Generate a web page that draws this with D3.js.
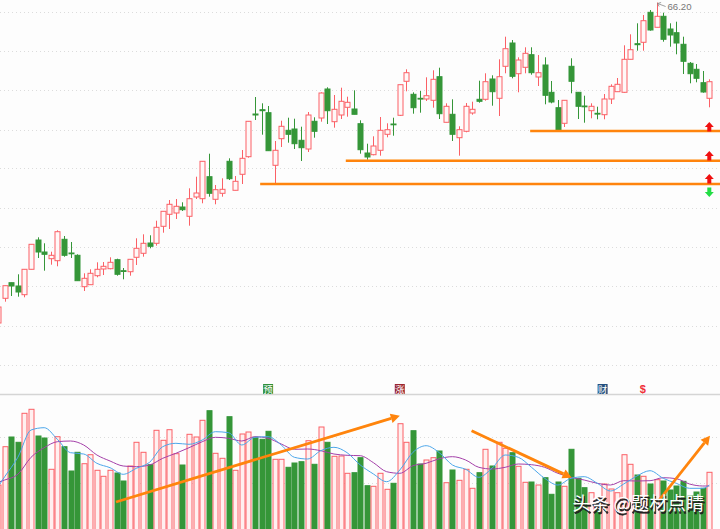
<!DOCTYPE html>
<html><head><meta charset="utf-8">
<style>html,body{margin:0;padding:0;background:#fdfdfd;overflow:hidden}svg{display:block}</style>
<script src="https://cdn.jsdelivr.net/npm/d3@7/dist/d3.min.js"></script>
</head><body><div id="chart"></div>
<script>
const opens=[34.4,36.87,38.43,38.1,37.23,39.77,42.7,41.5,40.83,40.63,42.77,41.4,41.17,38.03,38.23,39.13,39.8,39.83,40.73,39.63,39.53,40.97,41.37,42.4,42.37,44.07,45.27,45.4,46.0,45.07,47.0,46.83,49.03,46.77,47.37,50.57,47.67,49.27,51.03,55.3,55.73,55.43,50.17,52.83,53.67,53.8,52.67,51.8,54.57,54.9,57.8,54.53,55.2,55.97,55.8,54.33,51.4,51.23,51.67,53.27,54.3,55.17,58.57,57.27,56.87,56.8,56.67,59.03,54.47,55.27,52.93,53.57,55.4,56.77,56.77,58.8,56.87,60.07,62.4,59.33,59.97,61.23,59.0,60.2,57.47,55.93,54.37,60.07,57.47,56.1,55.63,55.37,55.23,56.8,57.53,57.47,60.77,62.33,62.47,65.47,63.97,65.07,63.8,63.43,62.27,60.37,59.77,58.43,56.87];
const closes=[36.0,38.13,38.1,37.5,39.77,42.27,41.5,41.27,41.17,43.53,41.17,41.33,38.63,38.87,39.37,39.77,40.07,40.47,39.27,39.57,40.77,41.87,42.37,42.07,43.97,45.57,46.27,46.07,45.73,46.83,47.4,50.57,47.37,47.73,47.77,48.83,48.57,50.87,54.57,55.2,55.63,51.63,51.67,54.07,53.27,52.33,51.93,55.2,53.57,57.4,55.63,55.77,56.57,56.47,55.27,51.73,51.0,52.1,53.67,53.73,54.23,58.23,59.43,55.93,56.83,57.13,58.77,55.33,56.07,53.27,53.73,56.07,55.77,56.57,58.53,57.53,59.03,61.83,59.07,60.7,61.37,59.43,59.43,57.17,56.5,53.7,56.67,58.57,56.07,56.03,56.07,55.3,56.8,58.07,58.27,60.77,61.73,62.23,64.63,63.7,65.07,62.77,63.2,62.4,60.57,59.33,58.87,57.5,58.53];
const highs=[36.2,38.13,38.43,39.27,39.77,42.27,42.97,42.37,41.53,43.67,43.1,42.5,41.27,39.37,39.77,40.47,40.5,40.97,40.83,39.9,40.77,42.87,43.27,43.17,44.63,45.57,46.7,46.8,46.47,47.87,49.03,50.57,51.33,48.2,48.87,50.87,49.1,51.7,54.57,57.0,56.37,56.1,52.6,54.63,54.93,54.83,54.03,55.5,54.97,57.47,57.97,57.2,57.93,57.03,57.67,54.67,52.33,53.07,55.0,54.37,54.93,58.23,59.77,57.47,57.6,58.97,59.67,59.93,56.37,56.77,54.07,56.4,56.53,58.63,59.37,59.17,60.77,63.03,62.7,60.97,61.97,61.97,61.2,60.97,58.6,56.7,56.67,60.87,57.47,57.13,56.37,56.03,57.3,58.27,58.9,62.17,63.27,64.37,65.2,65.7,66.45,65.43,64.37,64.53,63.03,60.5,60.3,59.6,58.77];
const lows=[34.4,36.53,37.1,37.03,36.97,39.77,40.9,39.63,40.23,40.07,41.03,40.9,38.63,37.6,38.23,38.97,39.2,39.77,39.13,38.77,39.13,40.2,41.03,41.87,42.13,43.43,43.8,44.8,45.6,44.13,46.8,46.37,47.03,46.27,47.03,48.7,47.67,48.3,50.93,54.7,53.23,51.63,48.3,52.0,52.43,51.8,50.6,51.5,52.93,54.53,54.3,53.93,54.8,55.03,55.27,51.33,50.73,51.17,51.13,52.97,53.13,55.1,57.57,55.33,55.43,56.6,55.93,54.8,54.47,52.6,51.13,53.47,55.23,56.43,56.63,56.13,55.1,59.37,58.87,57.47,59.37,59.23,58.1,56.27,56.37,53.7,54.0,57.37,54.8,54.43,54.87,54.77,54.77,56.3,57.53,57.43,60.77,61.63,61.63,63.63,63.97,62.53,62.03,61.27,59.3,58.37,58.47,57.43,55.97];
const volumes=[44,82.3,92,86.7,115.7,119.7,93,91,59.7,92.3,82.3,58,76.7,65.3,74.3,58.7,52.7,58.7,56,48,63,86.7,76.7,64.3,98.7,88.7,99.3,75.3,64,94.7,92,108.7,118.3,75.7,70.7,112.3,58.7,95,97,91.7,89.7,97.7,69.7,69.7,61.7,66,67.3,88.3,64.7,102,86.7,72.7,73,55.7,56.3,71.3,43.3,42.7,55.7,39.7,45.7,105.3,86.7,98.3,65,69,71.3,78,46.3,59,48.7,59.7,40.7,56.3,79.7,63,86.7,80.7,76.3,62.7,46.7,47,44,51.3,34.7,47,42.7,79.7,50.7,41.3,36.3,19,45,40,36.3,74.3,64.7,54,52.7,45,49.3,48,39,43,47.7,33,37,40.7,56.7];
const maDays=[0,1,...d3.range(3,108,2),108];
const maFast=[42.3,52.3,71.7,99,101.3,89.7,76.3,75,65.7,61.3,54.7,60.7,66.7,82.3,85.7,84.7,89,97.3,96.3,84,91.7,92.3,84,71.7,70,78.3,81.7,76.3,64,55,47.3,59,76.7,83.3,76.3,64,59.7,51.7,60.7,74,71.7,61.7,50.7,44,50.7,52.3,45.7,38,45,53,58.3,50.7,45.7,40.7,40.7,44];
const maSlow=[46.7,49,54.7,71.7,81.3,87.3,88,84,74,68,63,62.3,64,70.7,75.7,81.3,87.3,91.7,90.7,88,92.3,90.7,85,79.7,80,78.3,75,73.7,73.3,66.3,57.3,55.7,63.3,65.7,70.3,72.3,69,61.7,60,61.7,65,64.3,61.7,55.7,51.7,49,45.7,44,48.3,48,48.3,51.3,50.3,45,43,43];
const priceGrid=[65.5,61.6,57.7,53.7,49.9,45.9,42,38.1,34.1,30.2];
const volumeGrid=[92.5,46.5];
const supportPrices=[53.6,50.63,48.3];
const supportStartDays=[80.8,52.8,39.8];
const volumeArrows=[[17.9,27,61,113.3],[71.9,98.3,87.1,51.3],[100.4,29,108.1,93.3]];
const upMarkPrices=[54,51.1,48.8];
const downMarkPrice=47.5;
const markDay=108;
const events=[{day:41,label:"预",color:"#2f8f3a"},{day:61,label:"涨",color:"#9a2530"},{day:91.8,label:"财",color:"#24507f"}];
const dollarDay=97.9;
const peakDay=100, peakLabel="66.20";
const watermark="头条 @题材点睛";

const W=720,H=529;
const x=d3.scaleLinear().domain([0,108]).range([-1.9,709.3]);
const y=d3.scaleLinear().domain([66.7,27.3]).range([0,394]);
const v=d3.scaleLinear().domain([0,135]).range([529,394]);
const svg=d3.select("#chart").append("svg").attr("width",W).attr("height",H).style("background","#fdfdfd");
const defs=svg.append("defs");
defs.append("filter").attr("id","soft").attr("x","-5%").attr("y","-5%").attr("width","110%").attr("height","110%")
  .append("feGaussianBlur").attr("stdDeviation",0.38);
defs.append("filter").attr("id","soft2").attr("x","-5%").attr("y","-5%").attr("width","110%").attr("height","110%")
  .append("feGaussianBlur").attr("stdDeviation",0.7);

const RED="#fb6066",GREEN="#349638";
const days=d3.range(opens.length);
const up=i=>closes[i]>=opens[i];
const px=i=>Math.round(x(i))+0.5;

const grid=svg.append("g").attr("stroke","#dcdcdc").attr("stroke-width",1).attr("stroke-dasharray","1,3");
grid.selectAll(".p").data(priceGrid).join("line").attr("class","p").attr("x1",0).attr("x2",W).attr("y1",d=>Math.round(y(d))+0.5).attr("y2",d=>Math.round(y(d))+0.5);
grid.selectAll(".v").data(volumeGrid).join("line").attr("class","v").attr("x1",0).attr("x2",W).attr("y1",d=>Math.round(v(d))+0.5).attr("y2",d=>Math.round(v(d))+0.5);
svg.append("line").attr("x1",0).attr("x2",W).attr("y1",v(135)+0.5).attr("y2",v(135)+0.5).attr("stroke","#d5d5d5").attr("stroke-width",1.3);

const cg=svg.append("g").attr("filter","url(#soft)");
cg.selectAll(".wick").data(days).join("line").attr("class","wick")
  .attr("x1",px).attr("x2",px).attr("y1",i=>y(highs[i])).attr("y2",i=>y(lows[i]))
  .attr("stroke",i=>up(i)?RED:GREEN).attr("stroke-width",1);
cg.selectAll(".body").data(days).join("rect").attr("class","body")
  .attr("x",i=>px(i)-2.5).attr("width",5)
  .attr("y",i=>y(Math.max(opens[i],closes[i])))
  .attr("height",i=>Math.max(0.8,Math.abs(y(opens[i])-y(closes[i]))))
  .attr("fill",i=>up(i)?"#fff8f8":GREEN).attr("stroke",i=>up(i)?RED:GREEN).attr("stroke-width",1);

const vg=svg.append("g").attr("filter","url(#soft)");
vg.selectAll(".vol").data(days).join("rect").attr("class","vol")
  .attr("x",i=>px(i)-2.5).attr("width",5)
  .attr("y",i=>v(volumes[i])).attr("height",i=>v(0)-v(volumes[i])+2)
  .attr("fill",i=>up(i)?"#fff0f0":GREEN).attr("stroke",i=>up(i)?RED:GREEN).attr("stroke-width",1);
const line=d3.line().x((d,i)=>x(maDays[i])).y(d=>v(d)).curve(d3.curveMonotoneX);
vg.append("path").datum(maSlow).attr("d",line).attr("fill","none").attr("stroke","#a33fa8").attr("stroke-width",1);
vg.append("path").datum(maFast).attr("d",line).attr("fill","none").attr("stroke","#4ba6ea").attr("stroke-width",1);

const OR="#ff8408";
const og=svg.append("g").attr("filter","url(#soft)");
og.selectAll(".sup").data(supportPrices).join("line").attr("class","sup")
  .attr("x1",(d,i)=>x(supportStartDays[i])).attr("x2",W).attr("y1",d=>y(d)).attr("y2",d=>y(d))
  .attr("stroke",OR).attr("stroke-width",2.6);
volumeArrows.forEach(a=>{
  const x1=x(a[0]),y1=v(a[1]),x2=x(a[2]),y2=v(a[3]);
  const t=Math.atan2(y2-y1,x2-x1),L=9,H2=4.8;
  const bx=x2-L*Math.cos(t),by=y2-L*Math.sin(t);
  og.append("line").attr("x1",x1).attr("y1",y1).attr("x2",bx).attr("y2",by).attr("stroke",OR).attr("stroke-width",2.8);
  og.append("path").attr("fill",OR).attr("d",d3.line()([[x2,y2],[bx-H2*Math.sin(t),by+H2*Math.cos(t)],[bx+H2*Math.sin(t),by-H2*Math.cos(t)]])+"Z");
});

const mg=svg.append("g");
const blockUp=d3.line()([[0,-5],[4.5,0],[2,0],[2,4.5],[-2,4.5],[-2,0],[-4.5,0]])+"Z";
mg.selectAll(".upm").data(upMarkPrices).join("path").attr("class","upm").attr("d",blockUp).attr("fill","#f01010")
  .attr("transform",d=>`translate(${x(markDay)},${y(d)})`);
mg.append("path").attr("d",blockUp).attr("fill","#22dd44").attr("transform",`translate(${x(markDay)},${y(downMarkPrice)}) rotate(180)`);

const eg=svg.append("g").attr("font-family","'Noto Sans CJK SC'");
events.forEach(e=>{
  const cx=x(e.day);
  eg.append("rect").attr("x",cx-5).attr("y",384).attr("width",10).attr("height",10).attr("fill",e.color);
  eg.append("text").attr("x",cx).attr("y",392.5).attr("text-anchor","middle").attr("font-size",9.5).attr("fill","#fff").text(e.label);
});
eg.append("text").attr("x",x(dollarDay)).attr("y",393).attr("text-anchor","middle").attr("font-size",11).attr("font-weight",700)
  .attr("font-family","'Liberation Sans'").attr("fill","#f0303a").text("$");

const lx=x(peakDay),ly=y(highs[peakDay]);
const pk=svg.append("g");
pk.append("path").attr("d",`M${lx+1},${ly+1}L${lx+9},${ly+4}M${lx+1},${ly+1}l3.5,-1M${lx+1},${ly+1}l1.5,3`).attr("fill","none").attr("stroke","#888").attr("stroke-width",0.8);
pk.append("text").attr("x",667.5).attr("y",ly+7.5).attr("font-family","'Liberation Sans'").attr("font-size",9.6).attr("fill","#777").text(peakLabel);

const wm=svg.append("g").attr("font-family","'Noto Sans CJK SC'").attr("font-size",18.4);
wm.append("text").attr("x",573.5).attr("y",511.5).attr("fill","#222").attr("filter","url(#soft2)").attr("stroke","#222").attr("stroke-width",0.6).text(watermark);
wm.append("text").attr("x",572.5).attr("y",510).attr("fill","#fff").text(watermark);
</script></body></html>
